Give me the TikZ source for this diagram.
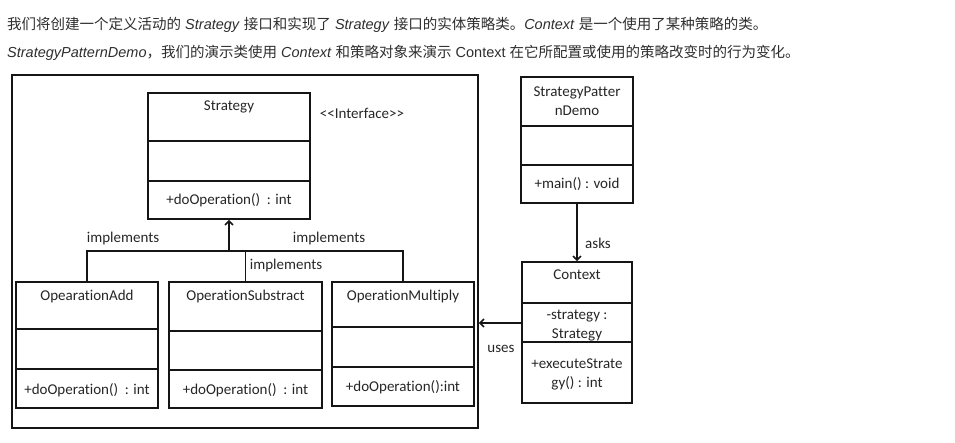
\documentclass[tikz,border=0pt]{standalone}
\usepackage{fontspec}
\setmainfont{Liberation Sans}
\newfontfamily\umlfont{Carlito}[Ligatures=NoCommon]
\newfontfamily\cjk{Noto Sans CJK SC}
\usetikzlibrary{arrows.meta, positioning}
\definecolor{HeadGray}{HTML}{2E2E2E}
\definecolor{LineBlack}{HTML}{151515}
\definecolor{TextGray}{HTML}{262626}

\tikzset{
  classbox/.style={draw=LineBlack, line width=1.6pt, inner sep=0pt},
  classtext/.style={font=\umlfont\fontsize{15}{19}\selectfont, text=TextGray,
    align=center, inner sep=0pt},
  link/.style={draw=LineBlack, line width=1.6pt},
  umlarrow/.style={-{Straight Barb[length=4pt, width=8pt]}},
  headline/.style={anchor=west, inner sep=0pt, text=HeadGray,
    font=\fontsize{14.5}{18}\selectfont}
}

\begin{document}
\begin{tikzpicture}[x=1pt, y=-1pt]
    \useasboundingbox (0,0) rectangle (955,442);

    % Heading text
    \node[headline] (head1) at (7,25) {{\cjk 我们将创建一个定义活动的} \textit{Strategy} {\cjk 接口和实现了} \textit{Strategy} {\cjk 接口的实体策略类。}\textit{Context} {\cjk 是一个使用了某种策略的类。}};
    \node[headline] (head2) at (7,53) {\textit{StrategyPatternDemo}{\cjk ，我们的演示类使用} \textit{Context} {\cjk 和策略对象来演示} Context {\cjk 在它所配置或使用的策略改变时的行为变化。}};

    % Outer frame
    \node[classbox, minimum width=466pt, minimum height=353pt] (frame) at (245,251.5) {};

    % Class boxes with two dividers each
    \foreach \nm/\xa/\ya/\xb/\yb/\da/\db in {
        strategy/148/93/310/219/141/181,
        add/16/282/158/408/329/369,
        sub/169/282/322/408/331/370,
        mul/332/282/474/406/327/367,
        demo/521/77/633/203/126/165,
        context/522/262/632/403/303/342}{
      \pgfmathsetmacro\w{\xb-\xa}
      \pgfmathsetmacro\h{\yb-\ya}
      \node[classbox, minimum width={\w*1pt}, minimum height={\h*1pt}]
        (\nm) at ({(\xa+\xb)/2},{(\ya+\yb)/2}) {};
      \draw[classbox] (\xa,\da) -- (\xb,\da) (\xa,\db) -- (\xb,\db);
    }

    % Class texts
    \node[classtext] (strategy-name) at (229,107) {Strategy};
    \node[classtext] (strategy-op) at (229,200) {+doOperation()\ \ : int};
    \node[classtext] (interface) at (362,113) {<<Interface>>};

    \node[classtext] (add-name) at (87,296) {OpearationAdd};
    \node[classtext] (add-op) at (87,390) {+doOperation()\ \ : int};
    \node[classtext] (sub-name) at (245.5,296) {OperationSubstract};
    \node[classtext] (sub-op) at (245.5,390) {+doOperation()\ \ : int};
    \node[classtext] (mul-name) at (403,296) {OperationMultiply};
    \node[classtext] (mul-op) at (403,387) {+doOperation():int};

    \node[classtext] (demo-name) at (577,101.5) {StrategyPatter\\nDemo};
    \node[classtext] (demo-op) at (577,184) {+main() : void};

    \node[classtext] (context-name) at (577,275) {Context};
    \node[classtext] (context-attr) at (577,326) {-strategy :\\Strategy};
    \node[classtext] (context-op) at (577,374) {+executeStrate\\gy() : int};

    % Implements connectors
    \coordinate (fork) at (229,251);
    \draw[link] (add.north) |- (fork) -| (mul.north);
    \draw[link] (sub.north) -- (sub.north |- fork);
    \draw[link, umlarrow] (fork) -- (strategy.south);
    \node[classtext] (impl-left) at (123,238) {implements};
    \node[classtext] (impl-right) at (329,238) {implements};
    \node[classtext] (impl-mid) at (286,265) {implements};

    % asks / uses
    \draw[link, umlarrow] (demo.south) -- (demo.south |- context.north);
    \node[classtext] (asks) at (598,243) {asks};
    \draw[link, umlarrow] (context.west |- 0,323) -- (frame.east |- 0,323);
    \node[classtext] (uses) at (501,349) {uses};
\end{tikzpicture}
\end{document}
